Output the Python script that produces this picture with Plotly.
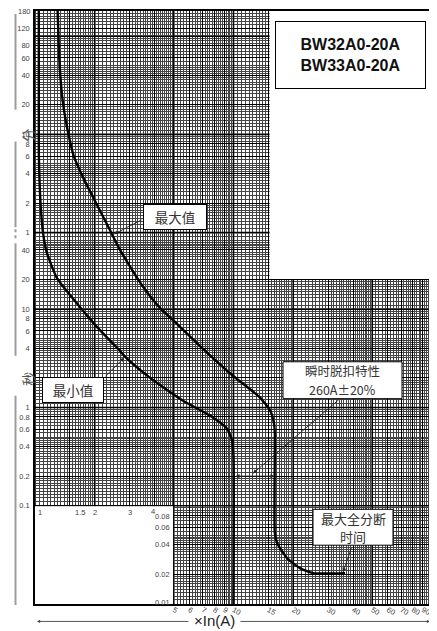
import math
import plotly.graph_objects as go

# ---------------- data ----------------
# maximum (upper) trip curve: multiple of In, time in seconds
max_x = [1.30, 1.33, 1.38, 1.475, 1.57, 1.755, 2.01, 2.36, 2.65, 3.045, 3.54, 4.26,
         5.19, 7.02, 9.94, 13.6, 15.3, 16.0, 16.15, 16.15, 16.6, 18.6, 21.6, 25.2, 36.5]
max_t = [10800, 3070, 1293, 598, 358, 214, 125, 66.6, 41.8, 26.2, 16.4, 10.3,
         7.08, 3.95, 2.10, 1.26, 0.93, 0.685, 0.54, 0.0525, 0.0416, 0.0293, 0.0232, 0.0206, 0.0206]
# minimum (lower) trip curve
min_x = [1.045, 1.045, 1.065, 1.10, 1.145, 1.29, 1.59, 2.05, 2.62, 2.91, 3.8, 5.57,
         7.61, 9.27, 9.83, 10.0, 10.0]
min_t = [10800, 402, 125, 57.9, 38.0, 20.7, 12.1, 6.6, 3.95, 3.13, 2.0, 1.17,
         0.826, 0.61, 0.46, 0.31, 0.01]

# tick labels
minute_ticks = [180, 120, 80, 60, 40, 20, 10, 8, 6, 4, 2, 1]          # minutes
second_ticks = [40, 20, 10, 8, 6, 4, 2, 1, 0.8, 0.6, 0.4, 0.2, 0.1]   # seconds
low_second_ticks = [0.08, 0.06, 0.04, 0.02, 0.01]                    # seconds (inner labels)
x_upper_ticks = [1, 1.5, 2, 3, 4]
x_lower_ticks = [5, 6, 7, 8, 9, 10, 15, 20, 30, 40, 50, 60, 70, 80, 90, 100]

# ---------------- helpers ----------------
L = math.log10
def fmt(v):
    return f"{v:g}"

def steps(a, b, s):
    out, v = [], a
    while v < b - 1e-9:
        out.append(round(v, 6))
        v += s
    return out

# grid values
x_minor = (steps(1, 2, 0.05) + steps(2, 5, 0.1) + steps(5, 10, 0.2) + steps(10, 15, 0.5)
           + steps(15, 20, 0.5) + steps(20, 50, 1) + steps(50, 100, 2))
dec = lambda d: [round(m * d, 8) for m in steps(1, 2, 0.1) + steps(2, 5, 0.2) + steps(5, 10, 0.5)]
t_minor = dec(0.01) + dec(0.1) + dec(1) + [v for v in dec(10) if v < 60]
t_minor += [round(m * 60, 6) for m in (steps(1, 2, 0.1) + steps(2, 5, 0.2) + steps(5, 10, 0.5)
                                      + steps(10, 20, 1) + steps(20, 50, 2) + steps(50, 100, 5)
                                      + steps(100, 180, 10))]

y_tickvals = [m * 60 for m in minute_ticks[1:]] + second_ticks + low_second_ticks + [6000, 10800]
y_ticktext = ([fmt(m) for m in minute_ticks[1:]] + [fmt(s) for s in second_ticks]
              + [""] * (len(low_second_ticks) + 2))
x_tickvals = x_upper_ticks + x_lower_ticks
x_ticktext = [""] * len(x_upper_ticks) + [fmt(v) for v in x_lower_ticks]

thick_x = [1, 2, 5, 10, 20, 50]
thick_t = [6000, 600, 60, 10, 1, 0.1]

FONT = "Liberation Sans, Arial, sans-serif"
CJK = "Noto Sans CJK SC, sans-serif"
TICKFONT = dict(family=FONT, size=7.5, color="#444")

fig = go.Figure()
for xs, ts in [(max_x, max_t), (min_x, min_t)]:
    fig.add_trace(go.Scatter(x=xs, y=ts, mode="lines",
                             line=dict(color="black", width=2.4, shape="spline", smoothing=0.5),
                             hoverinfo="skip", showlegend=False))

def px2x(p):
    return (p - 35) / 198.5
def py2y(p):
    return -2 + (604 - p) / 98.6
def py(p):
    return (604 - p) / 595

shapes = []
# heavier grid lines (shape coordinates on log axes are data values)
for v in thick_x:
    shapes.append(dict(type="line", xref="x", yref="paper", x0=v, x1=v, y0=0, y1=1,
                       line=dict(color="black", width=1.6), layer="below"))
for v in thick_t:
    shapes.append(dict(type="line", xref="paper", yref="y", x0=0, x1=1, y0=v, y1=v,
                       line=dict(color="black", width=1.6), layer="below"))
# blank regions without grid
shapes.append(dict(type="rect", xref="x", yref="y", x0=0.8, x1=4.96, y0=0.008, y1=0.0985,
                   fillcolor="white", line=dict(width=0), layer="between"))
shapes.append(dict(type="rect", xref="x", yref="y", x0=15.2, x1=130, y0=20.3, y1=20000,
                   fillcolor="white", line=dict(width=0), layer="between"))

# left side grey guide lines
gx = (15.5 - 35) / 397
for a, b in [(12, 108), (140, 226), (228, 231), (234, 237), (242, 355), (395, 605)]:
    shapes.append(dict(type="line", xref="paper", yref="paper", x0=gx, x1=gx, y0=py(a), y1=py(b),
                       line=dict(color="#9c9c9c", width=2), layer="above"))

ann = []
# top minute label
ann.append(dict(x=0, y=1, xref="paper", yref="paper", text="180", showarrow=False,
                xanchor="right", xshift=-2, yanchor="middle", yshift=0, font=TICKFONT))
# inner tick labels
for v in x_upper_ticks:
    ann.append(dict(x=L(v), y=-1, xref="x", yref="y", text=fmt(v), showarrow=False,
                    xanchor="left" if v < 2 else "center",
                    xshift=(1 if v == 1 else 3) if v < 2 else (-2 if v == 4 else 0),
                    yanchor="top", yshift=1 if v == 4 else 0, font=TICKFONT))
for v in low_second_ticks:
    ann.append(dict(x=L(5), y=L(v), xref="x", yref="y", text=fmt(v), showarrow=False,
                    xanchor="right", xshift=-2, yanchor="middle", yshift=2 if v == 0.01 else -1 if v == 0.08 else 0,
                    font=TICKFONT))
# unit labels
ann.append(dict(x=(16 - 35) / 397, y=py(125), xref="paper", yref="paper", text="分", textangle=-90,
                showarrow=False, font=dict(family=CJK, size=14, color="#555")))
ann.append(dict(x=(16 - 35) / 397, y=py(378), xref="paper", yref="paper", text="秒", textangle=-90,
                showarrow=False, font=dict(family=CJK, size=14, color="#555")))
ann.append(dict(x=(214 - 35) / 397, y=py(621), xref="paper", yref="paper", text="×In(A)",
                showarrow=False, yanchor="middle", font=dict(family=FONT, size=15, color="#222")))
# axis arrows
ann.append(dict(x=(37 - 35) / 397, y=py(621.5), xref="paper", yref="paper", text="", showarrow=True,
                ax=153, ay=0, arrowhead=2, arrowsize=0.7, arrowwidth=0.9, arrowcolor="#444"))
ann.append(dict(x=(430 - 35) / 397, y=py(621.5), xref="paper", yref="paper", text="", showarrow=True,
                ax=-191, ay=0, arrowhead=2, arrowsize=0.7, arrowwidth=0.9, arrowcolor="#444"))

def box(xv, yv, text, w, h, size=13.5, family=CJK, color="#333"):
    ann.append(dict(x=xv, y=yv, xref="x", yref="y", text=text, showarrow=False,
                    width=w, height=h, bgcolor="white", bordercolor="black", borderwidth=1,
                    borderpad=0, font=dict(family=family, size=size, color=color)))

def box2(x0, x1, y0, y1, lines, centers, size=13, color="#333"):
    # framed box drawn as a shape (data values), each text line as its own annotation
    shapes.append(dict(type="rect", xref="x", yref="y",
                       x0=10 ** px2x(x0), x1=10 ** px2x(x1), y0=10 ** py2y(y1), y1=10 ** py2y(y0),
                       fillcolor="white", line=dict(color="black", width=1), layer="above"))
    for txt, c in zip(lines, centers):
        ann.append(dict(x=px2x((x0 + x1) / 2), y=py2y(c), xref="x", yref="y", text=txt,
                        showarrow=False, xanchor="center", yanchor="middle",
                        font=dict(family=CJK, size=size, color=color)))

def arrow(hx, hy, tx, ty, both=False):
    ann.append(dict(x=hx, y=hy, ax=tx, ay=ty, xref="x", yref="y", axref="x", ayref="y",
                    text="", showarrow=True, arrowhead=2, arrowsize=0.9, arrowwidth=0.9,
                    arrowcolor="#222", arrowside="end+start" if both else "end"))

arrow(px2x(114), py2y(233), px2x(143), py2y(218))
arrow(px2x(124), py2y(357), px2x(104), py2y(377))
arrow(px2x(253), py2y(473), px2x(340), py2y(398))
arrow(px2x(343), py2y(572), px2x(352), py2y(546))
arrow(L(16.1), L(0.2), L(10.05), L(0.2), both=True)

box(px2x(175), py2y(216), "最大值", 62, 24)
box(px2x(73), py2y(389), "最小值", 60, 24)
box2(283, 402, 361, 398, ["瞬时脱扣特性", "260A±20%"], [369.5, 388.5], size=12.5)
box2(313, 393, 509, 545, ["最大全分断", "时间"], [518.5, 536])
box(px2x(350.5), py2y(53), "<b>BW32A0-20A<br>BW33A0-20A</b>", 149, 66, size=16, family=FONT, color="#111")

# the page body has an 8px margin, so the figure is sized to fit the 437x631 window
fig.update_layout(
    width=429, height=623,
    margin=dict(l=27, r=5, t=1, b=27),
    paper_bgcolor="white", plot_bgcolor="white",
    shapes=shapes, annotations=ann, showlegend=False,
    xaxis=dict(type="log", range=[0, 2], tickmode="array", tickvals=x_tickvals, ticktext=x_ticktext,
               showgrid=True, gridcolor="black", gridwidth=1.1, ticks="", ticklabelstandoff=-3,
               tickfont=TICKFONT,
               showline=True, linecolor="black", linewidth=1.5, mirror=True, zeroline=False,
               minor=dict(tickmode="array", tickvals=x_minor, showgrid=True, gridcolor="#444444",
                          gridwidth=1, ticks="")),
    yaxis=dict(type="log", range=[-2, L(10800)], tickmode="array", tickvals=y_tickvals, ticktext=y_ticktext,
               showgrid=True, gridcolor="black", gridwidth=1.1, ticks="", ticklabelstandoff=2,
               tickfont=TICKFONT,
               showline=True, linecolor="black", linewidth=1.5, mirror=True, zeroline=False,
               minor=dict(tickmode="array", tickvals=t_minor, showgrid=True, gridcolor="#444444",
                          gridwidth=1, ticks="")),
)

fig.write_html("out.html")
